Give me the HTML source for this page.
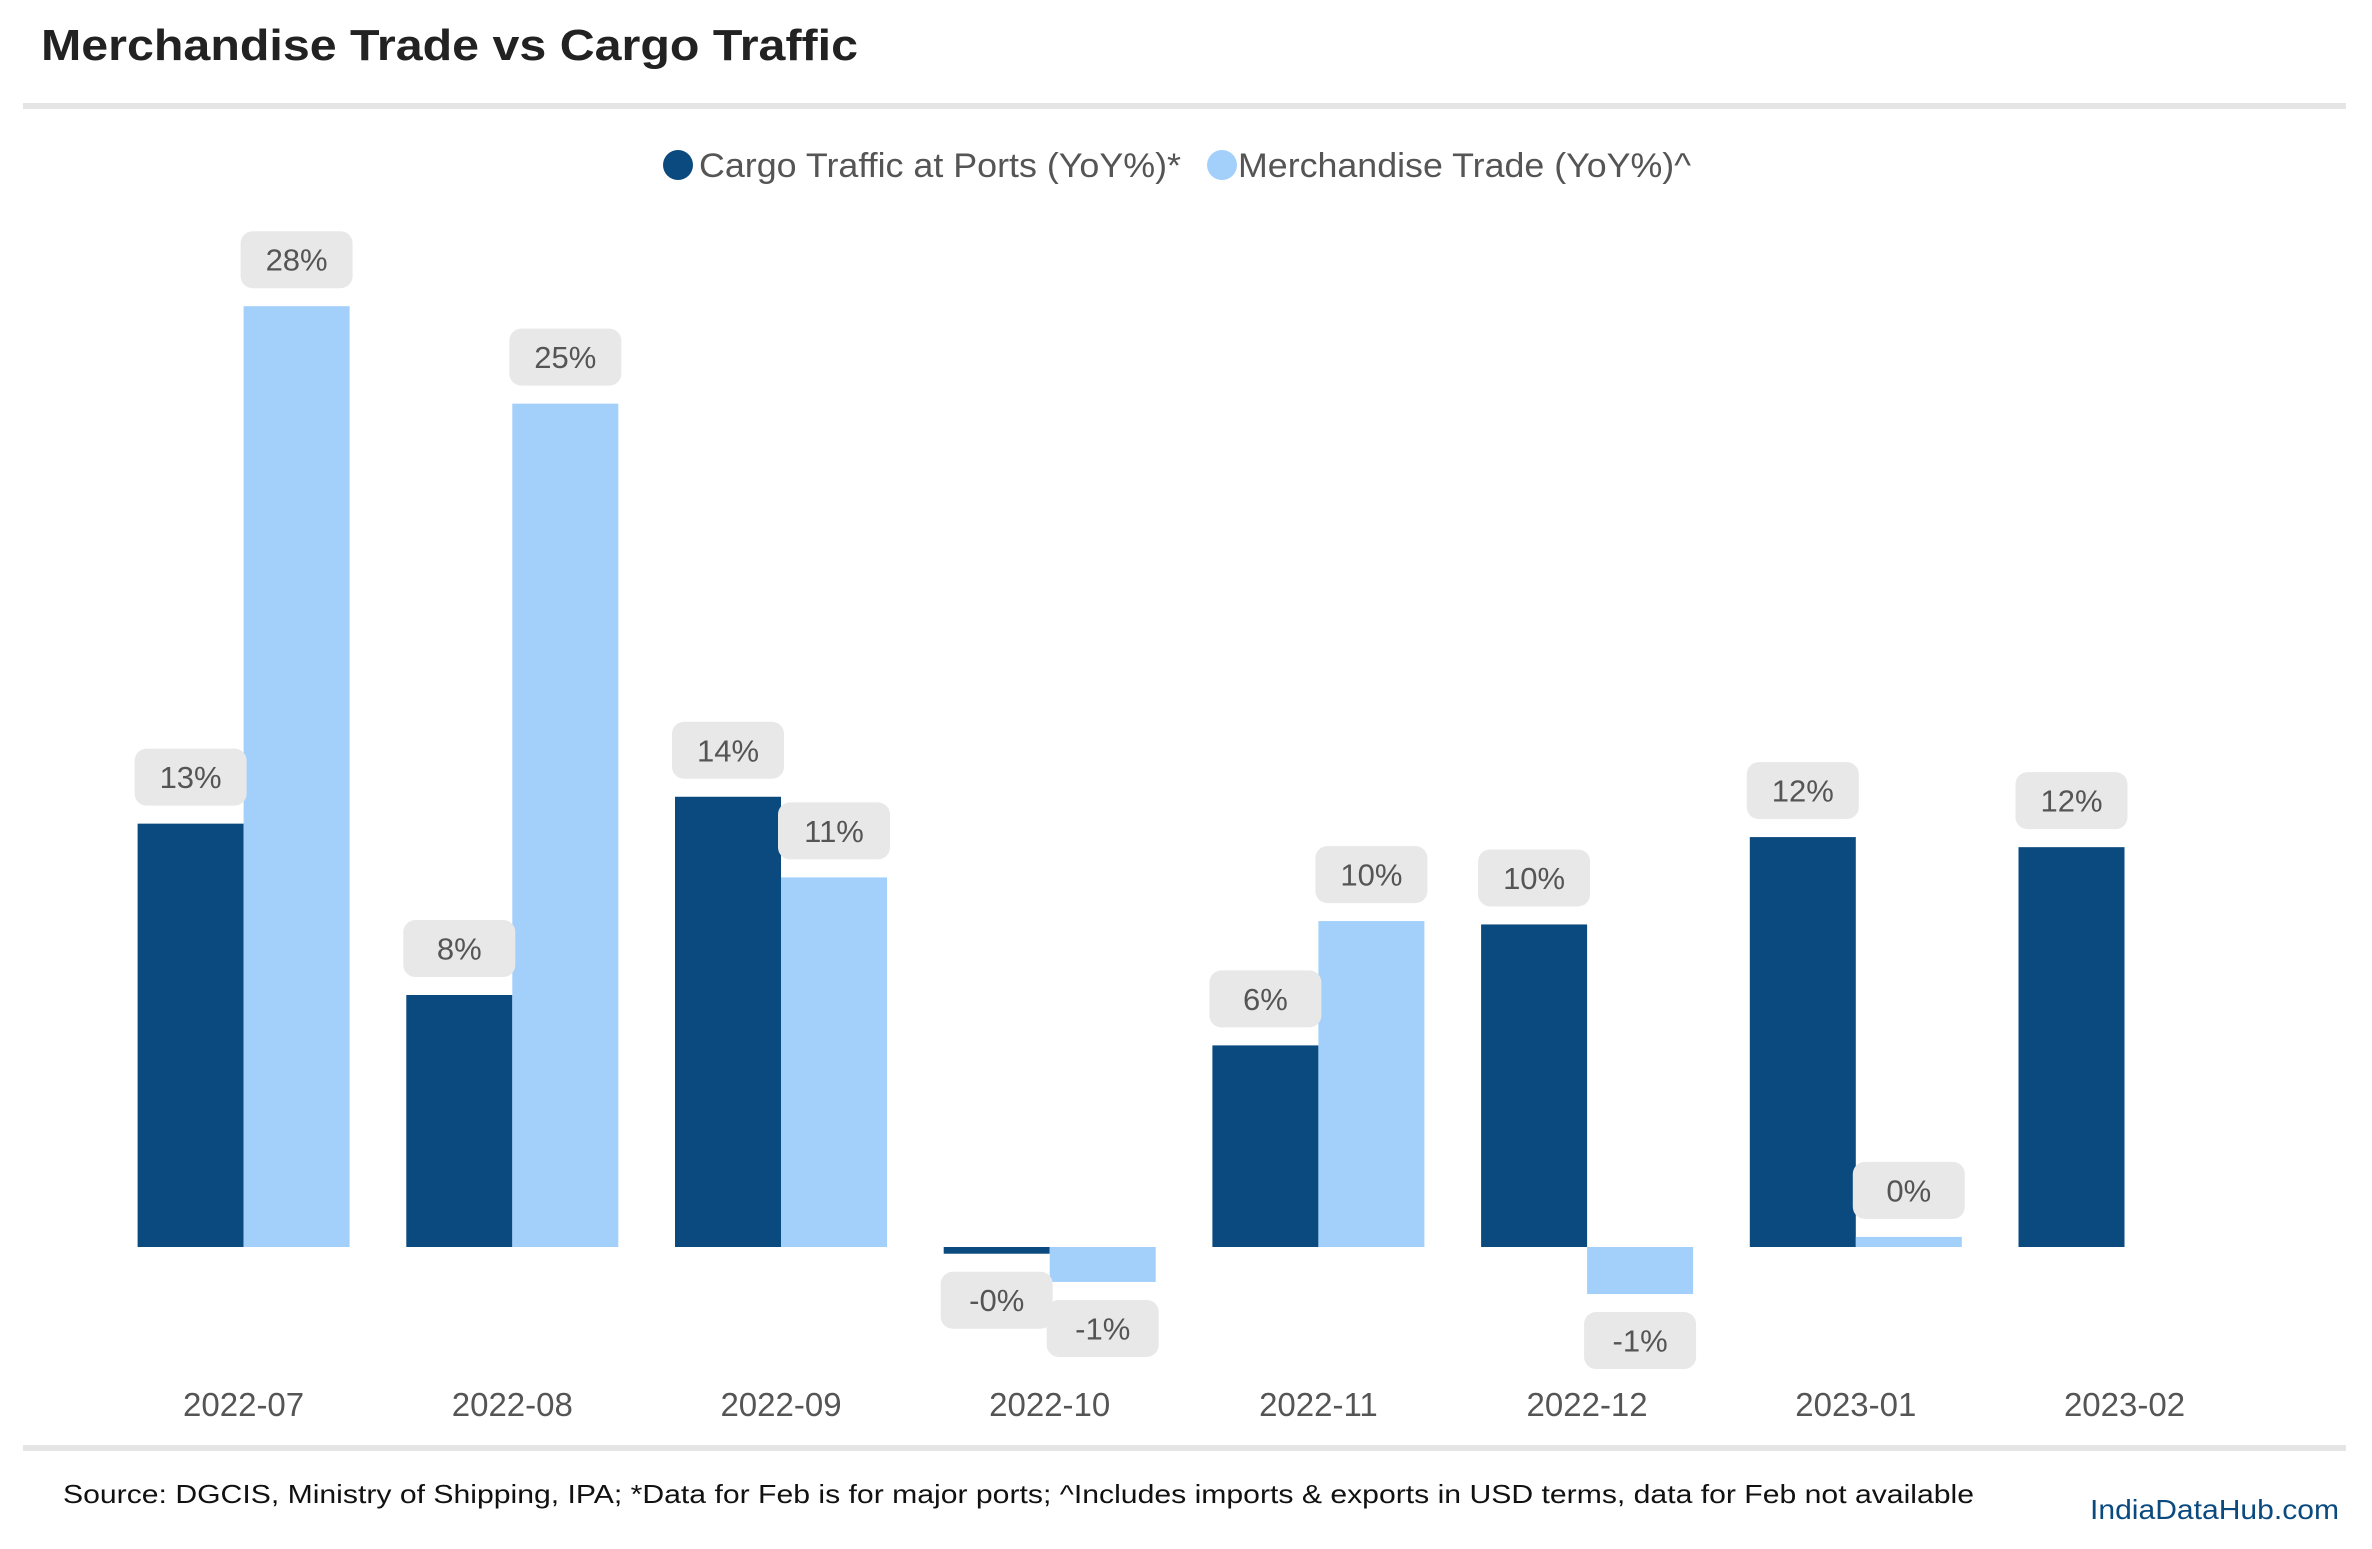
<!DOCTYPE html>
<html><head><meta charset="utf-8"><style>
html,body{margin:0;padding:0;background:#fff;}
svg{display:block;font-family:"Liberation Sans",sans-serif;}
</style></head><body>
<svg id="chart" width="2372" height="1549" viewBox="0 0 2372 1549" xmlns="http://www.w3.org/2000/svg">
<rect width="2372" height="1549" fill="#fff"/>
<text x="41" y="60" font-size="44" font-weight="bold" fill="#222" textLength="817" lengthAdjust="spacingAndGlyphs">Merchandise Trade vs Cargo Traffic</text>
<rect x="23" y="103" width="2323" height="6" fill="#e5e5e5"/>
<g>
<circle cx="678" cy="165" r="15" fill="#0b4a7f"/>
<text x="699" y="177" font-size="34" fill="#555" textLength="482" lengthAdjust="spacingAndGlyphs">Cargo Traffic at Ports (YoY%)*</text>
<circle cx="1222" cy="165" r="15" fill="#a3d0fb"/>
<text x="1238" y="177" font-size="34" fill="#555" textLength="453" lengthAdjust="spacingAndGlyphs">Merchandise Trade (YoY%)^</text>
</g>
<g id="bars"></g>
<g id="labels"></g>
<g id="xaxis"></g>
<rect x="23" y="1445" width="2323" height="6" fill="#e5e5e5"/>
<text x="63" y="1503" font-size="26" fill="#111" textLength="1911" lengthAdjust="spacingAndGlyphs">Source: DGCIS, Ministry of Shipping, IPA; *Data for Feb is for major ports; ^Includes imports &amp; exports in USD terms, data for Feb not available</text>
<text x="2090" y="1519" font-size="28" fill="#0b4a7f" textLength="249" lengthAdjust="spacingAndGlyphs">IndiaDataHub.com</text>
</svg>
<script>
const categories = ["2022-07","2022-08","2022-09","2022-10","2022-11","2022-12","2023-01","2023-02"];
const cargoValues = [12.6, 7.5, 13.4, -0.2, 6.0, 9.6, 12.2, 11.9];
const merchValues = [28.0, 25.1, 11.0, -1.04, 9.7, -1.4, 0.3, null];
const cargoLabels = ["13%","8%","14%","-0%","6%","10%","12%","12%"];
const merchLabels = ["28%","25%","11%","-1%","10%","-1%","0%",""];

const NS = "http://www.w3.org/2000/svg";
const zeroY = 1247, pxPerUnit = 33.6;
const firstCenter = 243.6, step = 268.7, barW = 106;
function yScale(v){ return zeroY - v * pxPerUnit; }
function xCenter(i){ return firstCenter + i * step; }
const bars = document.getElementById('bars');
const labels = document.getElementById('labels');
const xaxis = document.getElementById('xaxis');
function mk(tag, attrs){ const e = document.createElementNS(NS, tag); for (const k in attrs) e.setAttribute(k, attrs[k]); return e; }

function drawBar(v, lbl, x, color, name){
  if (v === null || v === undefined) return;
  const y0 = yScale(0), y1 = yScale(v);
  const top = Math.min(y0, y1), h = Math.max(Math.abs(y1 - y0), 2);
  const r = mk('rect', {x: x, y: top, width: barW, height: h, fill: color});
  
  
  bars.appendChild(r);
  const bw = 112, bh = 57;
  const cx = x + barW / 2;
  const by = v >= 0 ? (top - 18 - bh) : (top + h + 18);
  const box = mk('rect', {x: cx - bw/2, y: by, width: bw, height: bh, rx: 12, fill: '#e8e8e8'});
  
  
  labels.appendChild(box);
  const t = mk('text', {x: cx, y: by + bh/2 + 11, 'text-anchor': 'middle', 'font-size': 31, fill: '#555'});
  t.textContent = lbl;
  
  
  labels.appendChild(t);
}

categories.forEach((c, i) => {
  const cx = xCenter(i);
  drawBar(cargoValues[i], cargoLabels[i], cx - barW, '#0b4a7f', 'bar-cargo-' + c);
  drawBar(merchValues[i], merchLabels[i], cx, '#a3d0fb', 'bar-merch-' + c);
  const t = mk('text', {x: cx, y: 1416, 'text-anchor': 'middle', 'font-size': 33, fill: '#555'});
  t.textContent = c;
  
  
  xaxis.appendChild(t);
});
</script>
</body></html>
